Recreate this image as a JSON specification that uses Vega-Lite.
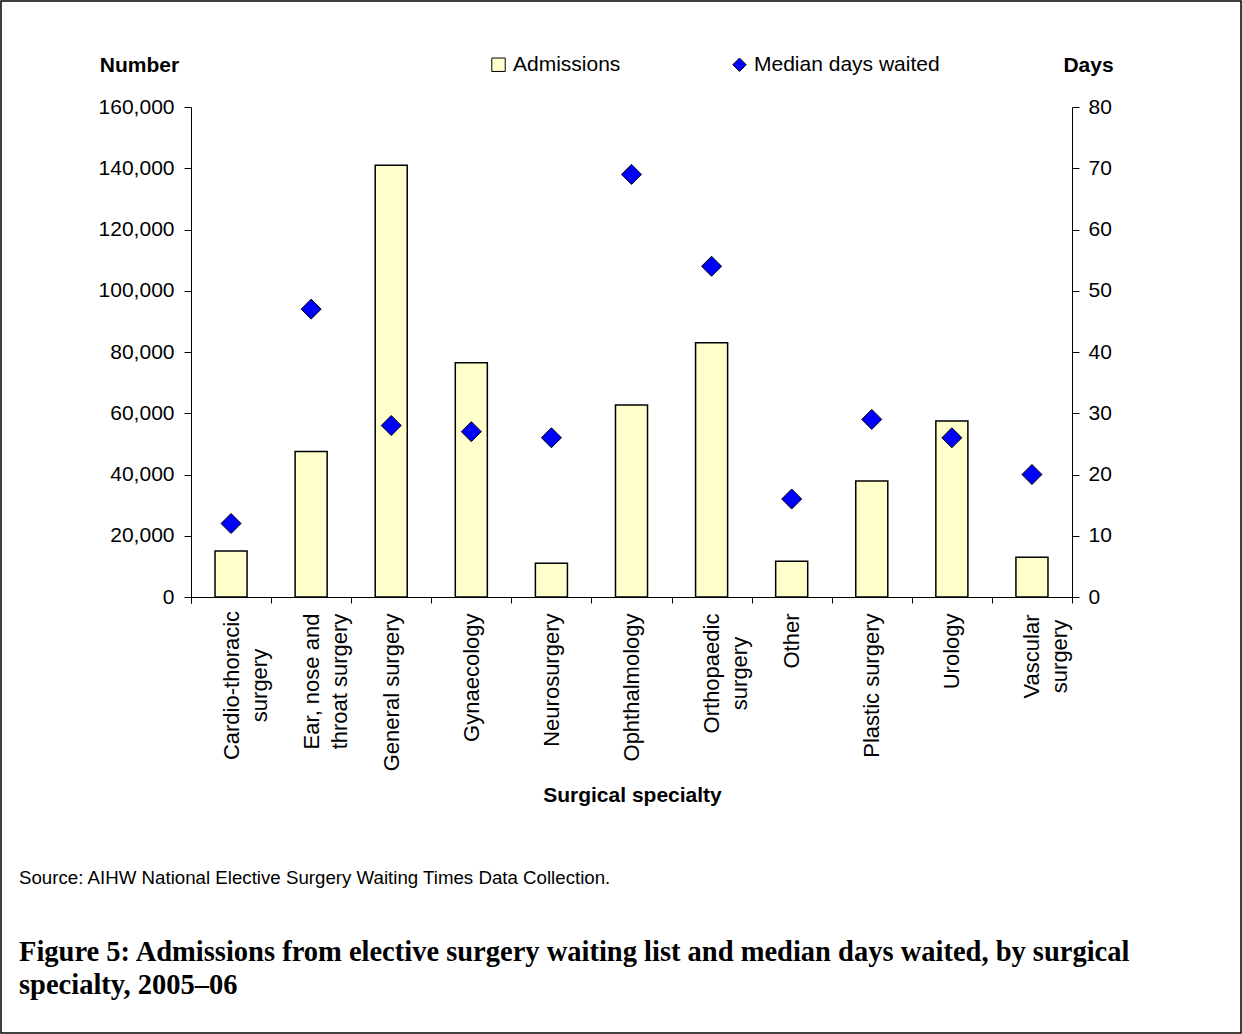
{
  "$schema": "https://vega.github.io/schema/vega-lite/v6.json",
  "width": 1240,
  "height": 1032,
  "autosize": {"type": "none"},
  "padding": {"left": 1, "top": 1, "right": 1, "bottom": 1},
  "background": "white",
  "config": {
    "view": {"stroke": "black", "strokeWidth": 1.5},
    "font": "Liberation Sans",
    "axis": {
      "grid": false,
      "domainColor": "black",
      "domainWidth": 1,
      "tickColor": "black",
      "tickWidth": 1,
      "labelColor": "black",
      "titleColor": "black",
      "labelFont": "Liberation Sans",
      "titleFont": "Liberation Sans"
    }
  },
  "title": {
    "text": "Source: AIHW National Elective Surgery Waiting Times Data Collection.",
    "subtitle": [
      "Figure 5: Admissions from elective surgery waiting list and median days waited, by surgical",
      "specialty, 2005–06"
    ],
    "orient": "bottom",
    "anchor": "start",
    "frame": "group",
    "offset": -164,
    "dx": 18,
    "baseline": "top",
    "font": "Liberation Sans",
    "fontSize": 18.7,
    "fontWeight": "normal",
    "color": "black",
    "subtitleFont": "Liberation Serif",
    "subtitleFontSize": 28.5,
    "subtitleFontWeight": "bold",
    "subtitleColor": "black",
    "subtitlePadding": 50,
    "subtitleLineHeight": 33
  },
  "data": {
    "values": [
      {"specialty": "Cardio-thoracic surgery", "admissions": 15000, "days": 12},
      {"specialty": "Ear, nose and throat surgery", "admissions": 47500, "days": 47},
      {"specialty": "General surgery", "admissions": 141000, "days": 28},
      {"specialty": "Gynaecology", "admissions": 76500, "days": 27},
      {"specialty": "Neurosurgery", "admissions": 11000, "days": 26},
      {"specialty": "Ophthalmology", "admissions": 62700, "days": 69},
      {"specialty": "Orthopaedic surgery", "admissions": 83000, "days": 54},
      {"specialty": "Other", "admissions": 11700, "days": 16},
      {"specialty": "Plastic surgery", "admissions": 37900, "days": 29},
      {"specialty": "Urology", "admissions": 57500, "days": 26},
      {"specialty": "Vascular surgery", "admissions": 13000, "days": 20}
    ]
  },
  "layer": [
    {
      "mark": {"type": "bar", "stroke": "black", "strokeWidth": 1.5},
      "encoding": {
        "x": {
          "field": "specialty",
          "type": "nominal",
          "sort": null,
          "scale": {"range": [190, 1071], "paddingInner": 0.6, "paddingOuter": 0.3},
          "axis": {
            "title": "Surgical specialty",
            "titleFontSize": 21,
            "titleFontWeight": "bold",
            "titleX": 631,
            "titleY": 198,
            "titleAlign": "center",
            "titleBaseline": "middle",
            "offset": -436,
            "bandPosition": 0,
            "tickOffset": -24,
            "labelOffset": 24,
            "tickSize": 6,
            "labelAngle": -90,
            "labelFontSize": 22,
            "labelLineHeight": 28,
            "labelBaseline": "middle",
            "labelLimit": 400,
            "labelOverlap": false,
            "labelExpr": "datum.value == 'Cardio-thoracic surgery' ? ['Cardio-thoracic', 'surgery'] : datum.value == 'Ear, nose and throat surgery' ? ['Ear, nose and', 'throat surgery'] : datum.value == 'Orthopaedic surgery' ? ['Orthopaedic', 'surgery'] : datum.value == 'Vascular surgery' ? ['Vascular', 'surgery'] : datum.label",
            "labelAlign": {
              "condition": {"test": "indexof(['Cardio-thoracic surgery', 'Ear, nose and throat surgery', 'Orthopaedic surgery', 'Vascular surgery'], datum.value) >= 0", "value": "center"},
              "value": "right"
            },
            "labelPadding": {
              "condition": [
                {"test": "datum.value == 'Cardio-thoracic surgery'", "value": 82},
                {"test": "datum.value == 'Ear, nose and throat surgery'", "value": 78},
                {"test": "datum.value == 'Orthopaedic surgery'", "value": 70},
                {"test": "datum.value == 'Vascular surgery'", "value": 53}
              ],
              "value": 10
            }
          }
        },
        "y": {
          "field": "admissions",
          "type": "quantitative",
          "scale": {"domain": [-1959.18, 160000], "range": [602, 106], "nice": false, "zero": false},
          "axis": {
            "title": "Number",
            "titleAngle": 0,
            "titleX": -52,
            "titleY": 64,
            "titleAlign": "center",
            "titleBaseline": "middle",
            "titleFontSize": 21,
            "titleFontWeight": "bold",
            "offset": -190,
            "values": [0, 20000, 40000, 60000, 80000, 100000, 120000, 140000, 160000],
            "labelExpr": "format(datum.value, ',')",
            "labelFontSize": 21,
            "tickSize": 7,
            "labelPadding": 10
          }
        },
        "fill": {
          "datum": "Admissions",
          "scale": {"domain": ["Admissions", "Median days waited"], "range": ["#ffffcc", "#0000ff"]},
          "legend": {
            "orient": "none",
            "legendX": 487,
            "legendY": 53,
            "direction": "horizontal",
            "columns": 2,
            "columnPadding": 108,
            "title": null,
            "labelFont": "Liberation Sans",
            "labelFontSize": 21,
            "labelColor": "black",
            "labelOffset": 4,
            "labelLimit": 400,
            "symbolSize": 180,
            "symbolStrokeColor": "black",
            "symbolStrokeWidth": 1,
            "encode": {
              "symbols": {
                "update": {
                  "shape": {"signal": "datum.value === 'Admissions' ? 'square' : 'diamond'"},
                  "stroke": {"value": "black"},
                  "strokeWidth": {"value": 1}
                }
              }
            }
          }
        }
      }
    },
    {
      "mark": {"type": "point", "shape": "diamond", "filled": true, "size": 400, "stroke": "black", "strokeWidth": 1, "opacity": 1},
      "encoding": {
        "x": {"field": "specialty", "type": "nominal", "sort": null},
        "y": {
          "field": "days",
          "type": "quantitative",
          "scale": {"domain": [-0.97959, 80], "range": [602, 106], "nice": false, "zero": false},
          "axis": {
            "orient": "right",
            "title": "Days",
            "titleAngle": 0,
            "titleX": 16,
            "titleY": 64,
            "titleAlign": "center",
            "titleBaseline": "middle",
            "titleFontSize": 21,
            "titleFontWeight": "bold",
            "offset": -169,
            "values": [0, 10, 20, 30, 40, 50, 60, 70, 80],
            "labelFontSize": 21,
            "tickSize": 7,
            "labelPadding": 9
          }
        },
        "fill": {"datum": "Median days waited"}
      }
    }
  ],
  "resolve": {"scale": {"y": "independent"}}
}
